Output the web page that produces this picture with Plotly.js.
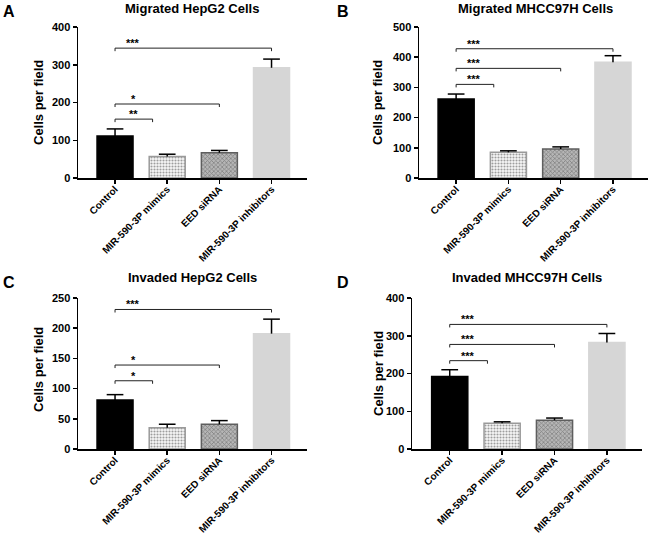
<!DOCTYPE html>
<html>
<head>
<meta charset="utf-8">
<script src="https://cdn.plot.ly/plotly-3.0.1.min.js"></script>
<style>html,body{margin:0;padding:0;background:#fff;}#chart{width:650px;height:534px;}</style>
</head>
<body>
<div id="chart"></div>
<script>
// ---- data ----
const categories = ['Control', 'MIR-590-3P mimics', 'EED siRNA', 'MIR-590-3P inhibitors'];

const migHepG2Mean = [111, 57, 67, 292];
const migHepG2Err  = [19, 6, 6, 23];
const migHepG2SigTo = [1, 2, 3];
const migHepG2SigY  = [156, 196, 344];
const migHepG2SigLabel = ['**', '*', '***'];

const migMHCCMean = [262, 85, 96, 383];
const migMHCCErr  = [16, 5, 7, 22];
const migMHCCSigTo = [1, 2, 3];
const migMHCCSigY  = [310, 363, 428];
const migMHCCSigLabel = ['***', '***', '***'];

const invHepG2Mean = [81, 35, 41, 191];
const invHepG2Err  = [9, 6, 6, 24];
const invHepG2SigTo = [1, 2, 3];
const invHepG2SigY  = [113, 139, 231];
const invHepG2SigLabel = ['*', '*', '***'];

const invMHCCMean = [192, 68, 76, 282];
const invMHCCErr  = [18, 4, 6, 24];
const invMHCCSigTo = [1, 2, 3];
const invMHCCSigY  = [234, 277, 330];
const invMHCCSigLabel = ['***', '***', '***'];

const panelTitles = ['Migrated HepG2 Cells', 'Migrated MHCC97H Cells', 'Invaded HepG2 Cells', 'Invaded MHCC97H Cells'];
const panelLetters = ['A', 'B', 'C', 'D'];
const yTitle = 'Cells per field';

// ---- layout / style ----
const W = 650, H = 534;
const FONT = 'Liberation Sans, Arial, Helvetica, sans-serif';
const px = v => v / W;
const py = v => 1 - v / H;

const panels = [
  {mean: migHepG2Mean, err: migHepG2Err, sigTo: migHepG2SigTo, sigY: migHepG2SigY, sigLabel: migHepG2SigLabel,
   yMax: 400, dtick: 100, xDom: [78, 307], yDom: [27, 178], xr: [-0.71, 3.68],
   title: [192, 8], letter: [9, 11], ytitle: [38, 103]},
  {mean: migMHCCMean, err: migMHCCErr, sigTo: migMHCCSigTo, sigY: migMHCCSigY, sigLabel: migMHCCSigLabel,
   yMax: 500, dtick: 100, xDom: [419, 648], yDom: [27, 178], xr: [-0.71, 3.67],
   title: [535, 8], letter: [343, 11], ytitle: [377, 103]},
  {mean: invHepG2Mean, err: invHepG2Err, sigTo: invHepG2SigTo, sigY: invHepG2SigY, sigLabel: invHepG2SigLabel,
   yMax: 250, dtick: 50, xDom: [78, 307], yDom: [298, 449], xr: [-0.71, 3.68],
   title: [192, 277], letter: [9, 282], ytitle: [38, 370]},
  {mean: invMHCCMean, err: invMHCCErr, sigTo: invMHCCSigTo, sigY: invMHCCSigY, sigLabel: invMHCCSigLabel,
   yMax: 400, dtick: 100, xDom: [412, 642], yDom: [298, 449], xr: [-0.72, 3.67],
   title: [527, 277], letter: [343, 282], ytitle: [378, 374]}
];

const barColors   = ['#000000', '#f7f7f7', '#b6b6b6', '#d6d6d6'];
const lineColors  = ['#000000', '#9a9a9a', '#5e5e5e', '#d6d6d6'];
const patShapes   = ['', '.', 'x', ''];
const patFg       = ['#000000', '#dddddd', '#8c8c8c', '#d6d6d6'];
const shortBracketEnd = 0.72;
const capHalf = 0.16;

const data = [];
const annotations = [];
const layout = {
  width: W, height: H,
  margin: {l: 0, r: 0, t: 0, b: 0},
  paper_bgcolor: '#ffffff', plot_bgcolor: '#ffffff',
  showlegend: false,
  font: {family: FONT, color: '#000'},
  annotations: annotations
};

const xVals = categories.map((c, i) => i);

panels.forEach((p, k) => {
  const n = k + 1;
  const xa = n === 1 ? 'x' : 'x' + n;
  const ya = n === 1 ? 'y' : 'y' + n;
  const xKey = n === 1 ? 'xaxis' : 'xaxis' + n;
  const yKey = n === 1 ? 'yaxis' : 'yaxis' + n;

  // upper-only error bars (stem + top cap)
  const ex = [], ey = [];
  p.mean.forEach((m, i) => {
    const top = m + p.err[i];
    ex.push(i, i, null, i - capHalf, i + capHalf, null);
    ey.push(m, top, null, top, top, null);
  });
  data.push({
    type: 'scatter', mode: 'lines', x: ex, y: ey, xaxis: xa, yaxis: ya,
    line: {color: '#000', width: 1.5}, hoverinfo: 'skip', connectgaps: false
  });

  data.push({
    type: 'bar', x: xVals, y: p.mean, xaxis: xa, yaxis: ya, width: 0.69,
    marker: {
      color: barColors,
      line: {color: lineColors, width: 1.5},
      pattern: {shape: patShapes, fgcolor: patFg, size: 3, solidity: 0.4, fillmode: 'overlay'}
    },
    hoverinfo: 'skip'
  });

  const drop = p.yMax * 0.02;
  p.sigTo.forEach((to, j) => {
    const end = to === 1 ? shortBracketEnd : to;
    const y = p.sigY[j];
    data.push({
      type: 'scatter', mode: 'lines', xaxis: xa, yaxis: ya,
      x: [0, 0, end, end], y: [y - drop, y, y, y - drop],
      line: {color: '#222', width: 1}, hoverinfo: 'skip'
    });
    annotations.push({
      xref: xa, yref: ya, x: 0.35, y: y, text: '<b>' + p.sigLabel[j] + '</b>',
      showarrow: false, yanchor: 'bottom', yshift: -3,
      font: {size: 11, family: FONT, color: '#000'}
    });
  });

  layout[xKey] = {
    domain: [px(p.xDom[0]), px(p.xDom[1])], anchor: ya,
    range: p.xr, tickvals: xVals, ticktext: categories, tickangle: -45,
    showline: true, linecolor: '#000', linewidth: 1.5, mirror: false,
    ticks: 'outside', ticklen: 4, tickwidth: 1.5, tickcolor: '#000',
    ticklabelstandoff: -4,
    showgrid: false, zeroline: false, fixedrange: true,
    tickfont: {size: 10, family: FONT, weight: 'bold', color: '#000'}
  };
  layout[yKey] = {
    domain: [py(p.yDom[1]), py(p.yDom[0])], anchor: xa,
    range: [0, p.yMax], dtick: p.dtick, tick0: 0,
    showline: true, linecolor: '#000', linewidth: 1.5,
    ticks: 'outside', ticklen: 4, tickwidth: 1.5, tickcolor: '#000',
    showgrid: false, zeroline: false, fixedrange: true,
    tickfont: {size: 11, family: FONT, weight: 'bold', color: '#000'}
  };

  annotations.push({
    xref: 'paper', yref: 'paper', x: px(p.title[0]), y: py(p.title[1]),
    text: '<b>' + panelTitles[k] + '</b>', showarrow: false,
    xanchor: 'center', yanchor: 'middle', font: {size: 13, family: FONT, color: '#000'}
  });
  annotations.push({
    xref: 'paper', yref: 'paper', x: px(p.letter[0]), y: py(p.letter[1]),
    text: '<b>' + panelLetters[k] + '</b>', showarrow: false,
    xanchor: 'center', yanchor: 'middle', font: {size: 16, family: FONT, color: '#000'}
  });
  annotations.push({
    xref: 'paper', yref: 'paper', x: px(p.ytitle[0]), y: py(p.ytitle[1]),
    text: '<b>' + yTitle + '</b>', showarrow: false, textangle: -90,
    xanchor: 'center', yanchor: 'middle', font: {size: 13, family: FONT, color: '#000'}
  });
});

Plotly.newPlot('chart', data, layout, {displayModeBar: false, staticPlot: true});
</script>
</body>
</html>
